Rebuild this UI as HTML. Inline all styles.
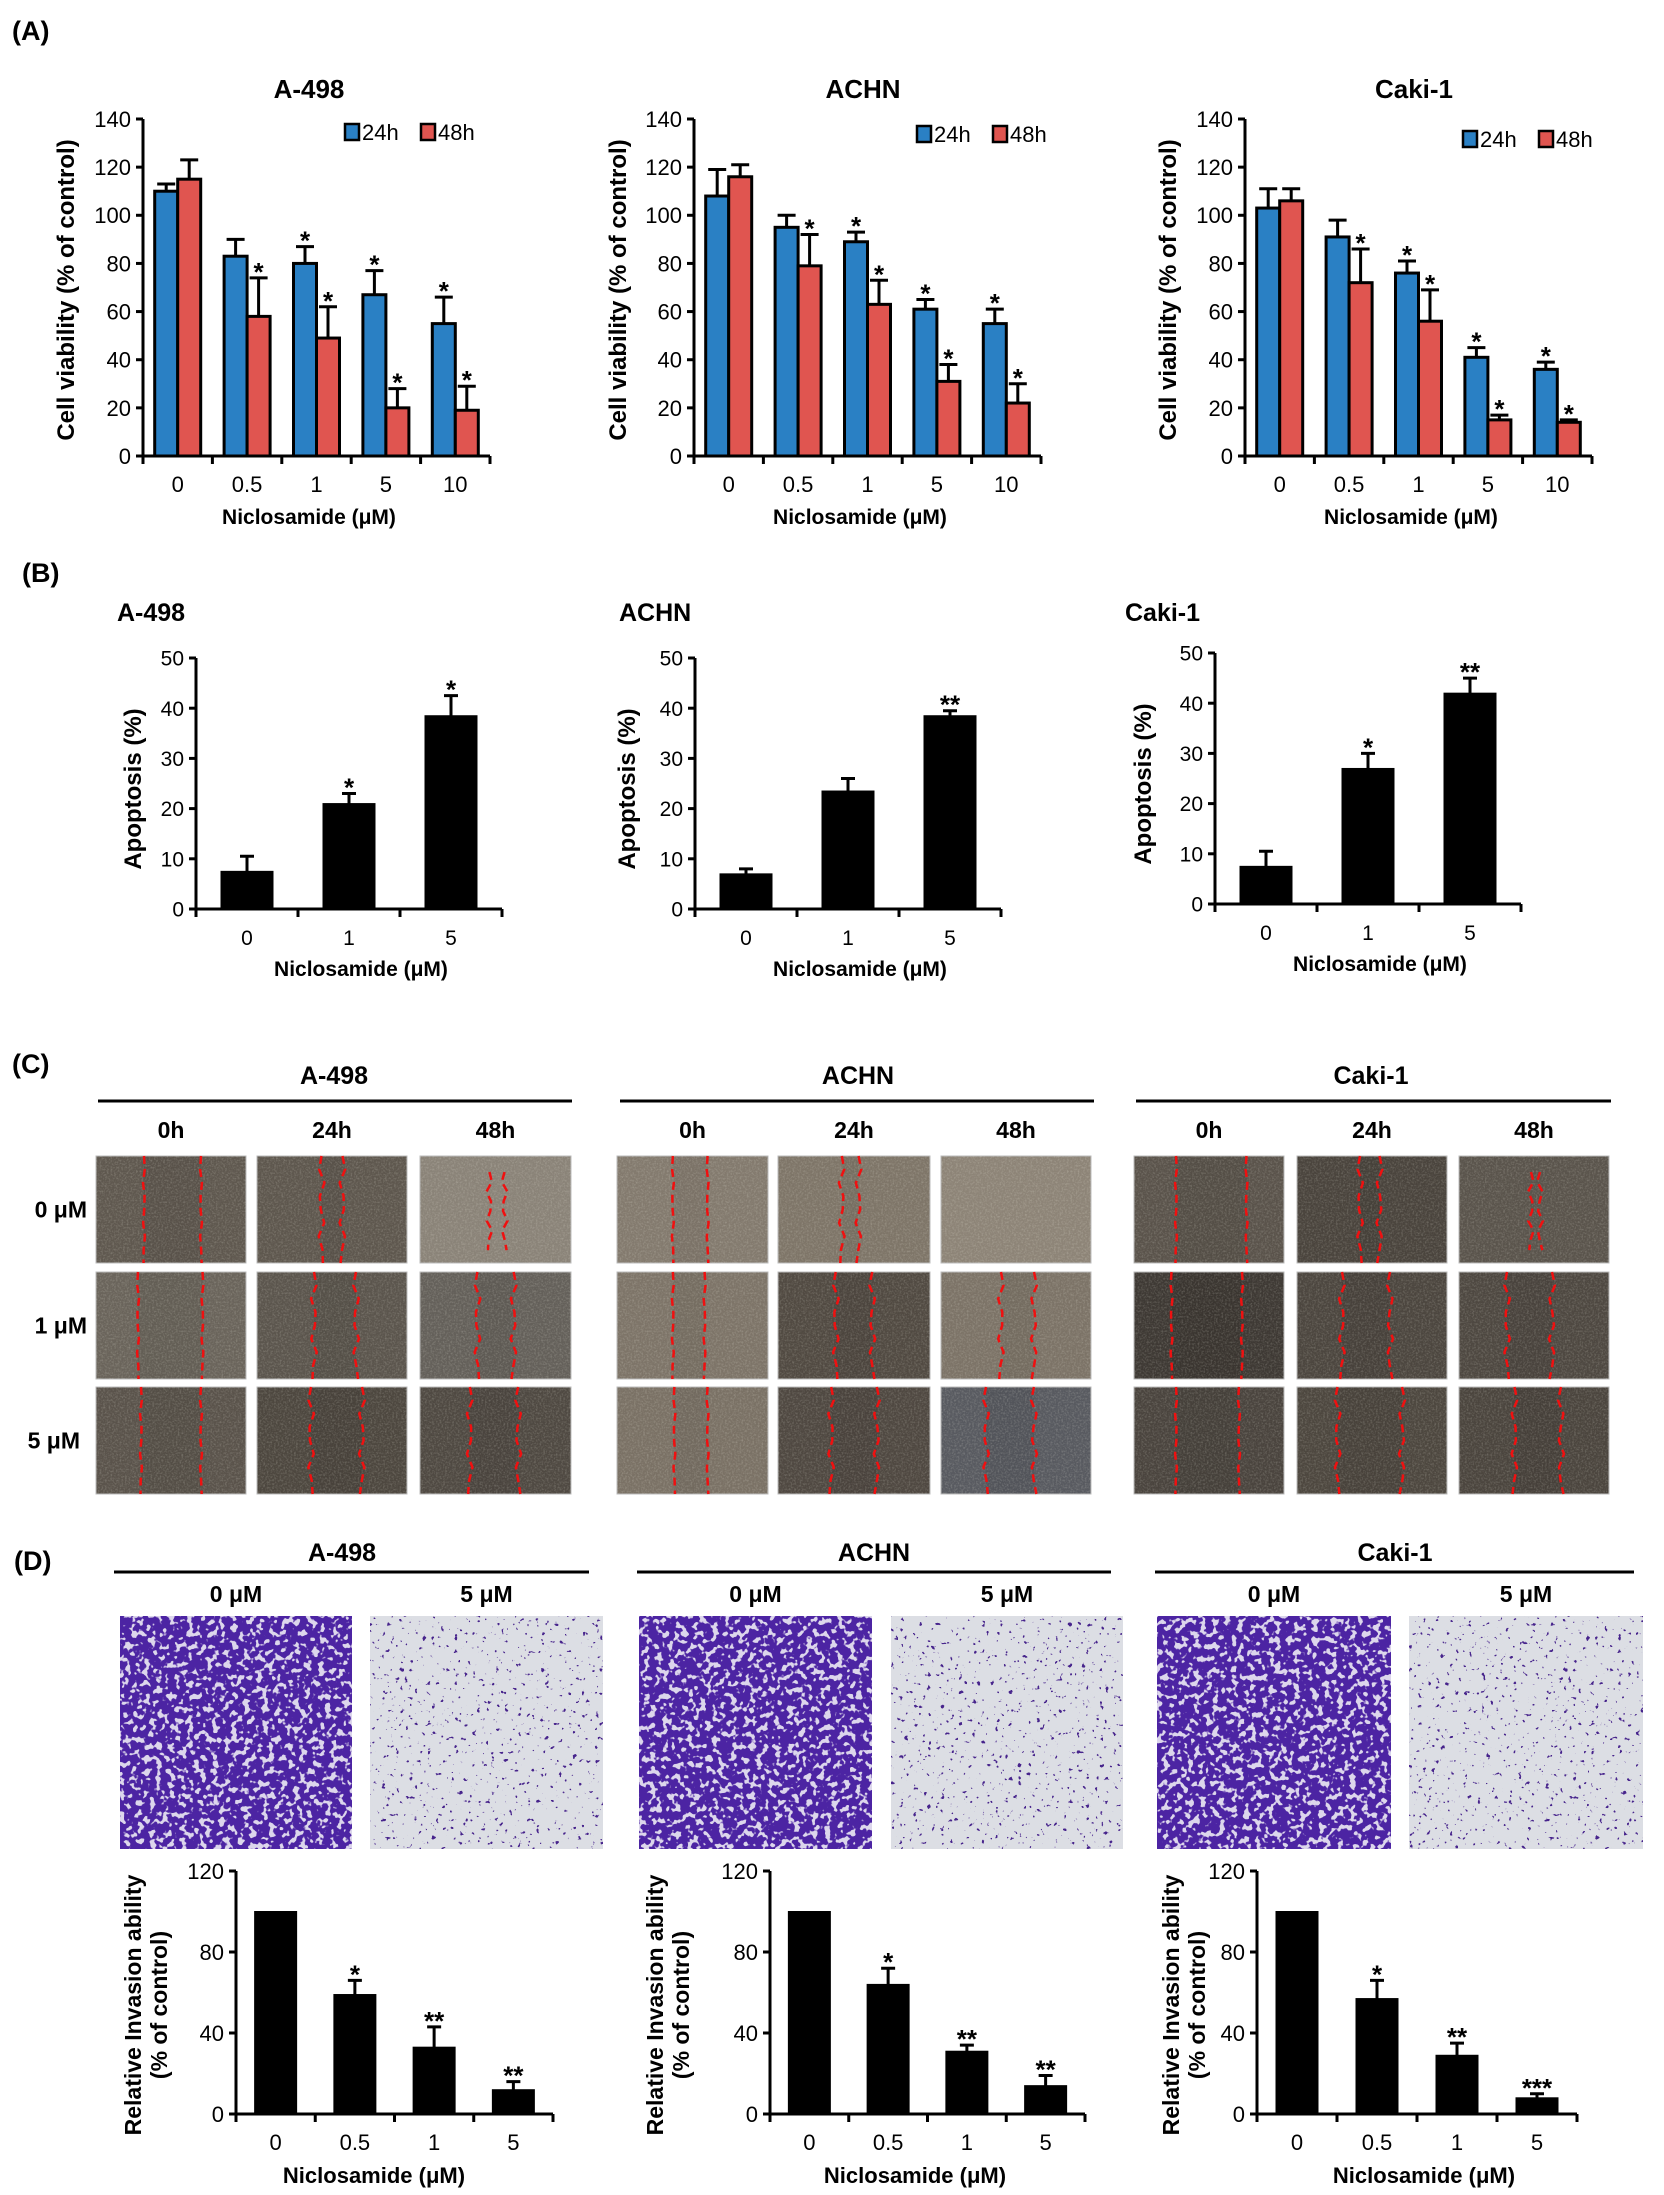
<!DOCTYPE html>
<html><head><meta charset="utf-8"><title>Niclosamide figure</title>
<style>
html,body{margin:0;padding:0;background:#fff;}
svg{display:block;font-family:"Liberation Sans",Arial,sans-serif;}
</style></head>
<body>
<svg id="fig" xmlns="http://www.w3.org/2000/svg" width="1664" height="2195" viewBox="0 0 1664 2195">
<defs>
<filter id="tex" x="0" y="0" width="1" height="1" color-interpolation-filters="sRGB">
<feTurbulence type="fractalNoise" baseFrequency="0.55" numOctaves="2" seed="4" result="n"/>
<feColorMatrix in="n" type="matrix" values="0 0 0 0 1  0 0 0 0 1  0 0 0 0 0.95  0 0 0 0.9 -0.38"/>
</filter>
<filter id="dense" x="0" y="0" width="1" height="1" color-interpolation-filters="sRGB">
<feTurbulence type="fractalNoise" baseFrequency="0.16" numOctaves="2" seed="7" result="n"/>
<feColorMatrix in="n" type="matrix" values="0 0 0 0 0.30  0 0 0 0 0.14  0 0 0 0 0.64  0 0 0 -14 8.6"/>
</filter>
<filter id="sparse" x="0" y="0" width="1" height="1" color-interpolation-filters="sRGB">
<feTurbulence type="fractalNoise" baseFrequency="0.22" numOctaves="2" seed="11" result="n"/>
<feColorMatrix in="n" type="matrix" values="0 0 0 0 0.28  0 0 0 0 0.14  0 0 0 0 0.55  0 0 0 18 -12.4"/>
</filter>
</defs>
<g id="labels" font-weight="bold" font-size="27" fill="#000">
<text x="12" y="40">(A)</text>
<text x="22" y="582">(B)</text>
<text x="12" y="1073">(C)</text>
<text x="14" y="1570">(D)</text>
</g>
</svg>
<script>
// ---------- Panel A data ----------
const catsA = ['0','0.5','1','5','10'];
const ticksA = [0,20,40,60,80,100,120,140];
const a498_24 = [110,83,80,67,55];
const a498_24e = [3,7,7,10,11];
const a498_48 = [115,58,49,20,19];
const a498_48e = [8,16,13,8,10];
const achn_24 = [108,95,89,61,55];
const achn_24e = [11,5,4,4,6];
const achn_48 = [116,79,63,31,22];
const achn_48e = [5,13,10,7,8];
const caki_24 = [103,91,76,41,36];
const caki_24e = [8,7,5,4,3];
const caki_48 = [106,72,56,15,14];
const caki_48e = [5,14,13,2,1];
const starsA24 = ['','','*','*','*'];
const starsA48 = ['','*','*','*','*'];
// ---------- Panel B data ----------
const catsB = ['0','1','5'];
const ticksB = [0,10,20,30,40,50];
const a498_apo = [7.5,21,38.5];
const a498_apoE = [3,2,4];
const a498_apoS = ['','*','*'];
const achn_apo = [7,23.5,38.5];
const achn_apoE = [1,2.5,1];
const achn_apoS = ['','','**'];
const caki_apo = [7.5,27,42];
const caki_apoE = [3,3,3];
const caki_apoS = ['','*','**'];
// ---------- Panel D data ----------
const catsD = ['0','0.5','1','5'];
const ticksD = [0,40,80,120];
const a498_inv = [100,59,33,12];
const a498_invE = [0,7,10,4];
const a498_invS = ['','*','**','**'];
const achn_inv = [100,64,31,14];
const achn_invE = [0,8,3,5];
const achn_invS = ['','*','**','**'];
const caki_inv = [100,57,29,8];
const caki_invE = [0,9,6,2];
const caki_invS = ['','*','**','***'];

const NS='http://www.w3.org/2000/svg';
const svg=document.getElementById('fig');
function mk(tag,attrs,parent){const e=document.createElementNS(NS,tag);for(const k in attrs)e.setAttribute(k,attrs[k]);(parent||svg).appendChild(e);return e;}
function txt(str,attrs,parent){const e=mk('text',attrs,parent);e.textContent=str;return e;}

function barChart(p){
  const g=mk('g',{});
  
  
  const sy=v=>p.y0-v/p.max*(p.y0-p.yTop);
  const n=p.cats.length, gw=(p.x1-p.x0)/n, ns=p.series.length;
  p.series.forEach((s,k)=>{
    s.vals.forEach((v,i)=>{
      const cx=p.x0+gw*(i+0.5);
      const bx=cx-ns*p.barW/2+k*p.barW;
      const r=mk('rect',{x:bx,y:sy(v),width:p.barW,height:p.y0-sy(v),fill:s.color,stroke:'#000','stroke-width':p.sw},g);
      
      
      const mx=bx+p.barW/2, top=sy(v+s.errs[i]);
      if(s.errs[i]>0){
        const el=mk('path',{d:`M${mx},${sy(v)} V${top} M${mx-p.cap},${top} H${mx+p.cap}`,stroke:'#000','stroke-width':p.ew,fill:'none'},g);
        
        
      }
      if(s.stars[i]){
        const st=txt(s.stars[i],{x:mx,y:top+p.starOff,'text-anchor':'middle','font-size':p.starSize,'font-weight':'bold'},g);
        
        
      }
    });
  });
  const ax=mk('path',{d:`M${p.x0},${p.yTop} V${p.y0} M${p.x0-6},${p.y0} H${p.x1}`,stroke:'#000','stroke-width':p.aw,fill:'none'},g);
  
  
  p.ticks.forEach(t=>{
    mk('line',{x1:p.x0-7,x2:p.x0,y1:sy(t),y2:sy(t),stroke:'#000','stroke-width':p.aw},g);
    const tl=txt(String(t),{x:p.x0-12,y:sy(t)+p.tickFs*0.36,'text-anchor':'end','font-size':p.tickFs},g);
    
    
  });
  for(let i=0;i<=n;i++){
    mk('line',{x1:p.x0+gw*i,x2:p.x0+gw*i,y1:p.y0,y2:p.y0+8,stroke:'#000','stroke-width':p.aw},g);
  }
  p.cats.forEach((c,i)=>{
    const cl=txt(c,{x:p.x0+gw*(i+0.5),y:p.catY,'text-anchor':'middle','font-size':p.tickFs},g);
    
    
  });
  const xt=txt('Niclosamide (μM)',{x:p.xtX,y:p.xtY,'text-anchor':'middle','font-size':p.xtFs,'font-weight':'bold'},g);
  
  
  p.yTitle.forEach((line,j)=>{
    const yt=txt(line,{x:0,y:0,'text-anchor':'middle','font-size':p.ytFs,'font-weight':'bold',transform:`translate(${p.ytX[j]},${p.ytY}) rotate(-90)`},g);
    
    
  });
  if(p.title){
    const tt=txt(p.title,{x:p.titleX,y:p.titleY,'text-anchor':p.titleAnchor,'font-size':p.titleFs,'font-weight':'bold'},g);
    
    
  }
  if(p.legend){
    const lx=p.legend[0], ly=p.legend[1];
    const lg=mk('g',{},g);
    
    
    mk('rect',{x:lx,y:ly-8,width:14,height:16,fill:'#2a80c4',stroke:'#000','stroke-width':2.5},lg);
    txt('24h',{x:lx+17,y:ly+8,'font-size':22},lg);
    mk('rect',{x:lx+76,y:ly-8,width:14,height:16,fill:'#e05550',stroke:'#000','stroke-width':2.5},lg);
    txt('48h',{x:lx+93,y:ly+8,'font-size':22},lg);
  }
}

const BLUE='#2a80c4', RED='#e05550';
function aChart(name,x0,title,titleX,legend,ytX,v24,e24,v48,e48){
  barChart({name,x0,x1:x0+347,y0:456,yTop:119,max:140,ticks:ticksA,cats:catsA,barW:23,sw:3,ew:3,cap:9,aw:3,
    series:[{key:'24h',vals:v24,errs:e24,stars:starsA24,color:BLUE},{key:'48h',vals:v48,errs:e48,stars:starsA48,color:RED}],
    starOff:3,starSize:26,tickFs:22,catY:492,xtX:x0+166,xtY:524,xtFs:21,yTitle:['Cell viability (% of control)'],ytX:[ytX],ytY:290,ytFs:24,
    title,titleX,titleY:98,titleAnchor:'middle',titleFs:26,legend});
}
aChart('chart-a-a498',143,'A-498',309,[345,132],74,a498_24,a498_24e,a498_48,a498_48e);
aChart('chart-a-achn',694,'ACHN',863,[917,134],626,achn_24,achn_24e,achn_48,achn_48e);
aChart('chart-a-caki1',1245,'Caki-1',1414,[1463,139],1176,caki_24,caki_24e,caki_48,caki_48e);

function bChart(name,x0,y0,title,titleX,ytX,vals,errs,stars,xtX){
  barChart({name,x0,x1:x0+306,y0,yTop:y0-251,max:50,ticks:ticksB,cats:catsB,barW:52,sw:1,ew:3,cap:7,aw:3,
    series:[{key:'apoptosis',vals,errs,stars,color:'#000'}],
    starOff:3,starSize:26,tickFs:21,catY:y0+36,xtX,xtY:y0+67,xtFs:21,yTitle:['Apoptosis (%)'],ytX:[ytX],ytY:y0-120,ytFs:24,
    title,titleX,titleY:621,titleAnchor:'start',titleFs:25});
}
bChart('chart-b-a498',196,909,'A-498',117,141,a498_apo,a498_apoE,a498_apoS,361);
bChart('chart-b-achn',695,909,'ACHN',619,635,achn_apo,achn_apoE,achn_apoS,860);
bChart('chart-b-caki1',1215,904,'Caki-1',1125,1151,caki_apo,caki_apoE,caki_apoS,1380);

function dChart(name,x0,x1,ytX,vals,errs,stars,xtX){
  barChart({name,x0,x1,y0:2114,yTop:1871,max:120,ticks:ticksD,cats:catsD,barW:42,sw:1,ew:3,cap:7,aw:3,
    series:[{key:'invasion',vals,errs,stars,color:'#000'}],
    starOff:3,starSize:26,tickFs:22,catY:2150,xtX,xtY:2183,xtFs:22,yTitle:['Relative Invasion ability','(% of control)'],ytX:[ytX,ytX+26],ytY:2005,ytFs:23});
}
dChart('chart-d-a498',236,553,141,a498_inv,a498_invE,a498_invS,374);
dChart('chart-d-achn',770,1085,663,achn_inv,achn_invE,achn_invS,915);
dChart('chart-d-caki1',1257,1577,1179,caki_inv,caki_invE,caki_invS,1424);

// ---------- Panel C: wound healing images ----------
const cGroups=[
 {name:'a498',title:'A-498',tx:334,line:[98,572],cols:[[96,246],[257,407],[420,571]],
  colors:[['#5f584f','#5e574e','#8a8378'],['#6a645b','#5b554d','#64605a'],['#5a534b','#4d473f','#4f4942']],
  gaps:[[[0.32,0.70],[0.43,0.57],[0.46,0.56,1]],[[0.28,0.71],[0.38,0.66],[0.38,0.62]],[[0.30,0.70],[0.36,0.70],[0.33,0.65]]]},
 {name:'achn',title:'ACHN',tx:858,line:[620,1094],cols:[[617,768],[778,930],[941,1091]],
  colors:[['#837a6e','#7e7568','#8d8477'],['#7d7468','#514a42','#7c7367'],['#7a7165','#4f4841','#585a60']],
  gaps:[[[0.37,0.60],[0.42,0.53],null],[[0.37,0.58],[0.38,0.62],[0.40,0.62]],[[0.38,0.60],[0.35,0.65],[0.30,0.62]]]},
 {name:'caki1',title:'Caki-1',tx:1371,line:[1136,1611],cols:[[1134,1284],[1297,1447],[1459,1609]],
  colors:[['#5a534b','#4a443d','#5a544c'],['#3e3934','#4c463f','#4e4841'],['#4a443e','#4d473f','#4b453e']],
  gaps:[[[0.28,0.75],[0.42,0.55],[0.48,0.54,1]],[[0.25,0.72],[0.30,0.62],[0.32,0.62]],[[0.28,0.70],[0.27,0.70],[0.37,0.68]]]}
];
const cRows=[[1156,1263],[1272,1379],[1387,1494]];
const cHours=['0h','24h','48h'];
const cDoses=['0 μM','1 μM','5 μM'];
cDoses.forEach((d,r)=>{
  const t=txt(d,{x:r===2?80:87,y:(cRows[r][0]+cRows[r][1])/2+8,'text-anchor':'end','font-size':23,'font-weight':'bold'});
  
  
});
function wiggle(x,y0,y1,amp,seed){
  let d=`M${x},${y0}`;const steps=8;
  for(let i=1;i<=steps;i++){const yy=y0+(y1-y0)*i/steps;const dx=amp*Math.sin(seed*3.1+i*2.3);d+=` L${x+dx},${yy}`;}
  return d;
}
cGroups.forEach((G,gi)=>{
  const g=mk('g',{});
  
  
  const t=txt(G.title,{x:G.tx,y:1084,'text-anchor':'middle','font-size':25,'font-weight':'bold'},g);
  
  
  mk('line',{x1:G.line[0],x2:G.line[1],y1:1101,y2:1101,stroke:'#000','stroke-width':3},g);
  G.cols.forEach((c,ci)=>{
    const h=txt(cHours[ci],{x:(c[0]+c[1])/2,y:1138,'text-anchor':'middle','font-size':23,'font-weight':'bold'},g);
    
    
    cRows.forEach((rw,ri)=>{
      const w=c[1]-c[0], hh=rw[1]-rw[0];
      const im=mk('g',{},g);
      
      
      mk('rect',{x:c[0],y:rw[0],width:w,height:hh,fill:G.colors[ri][ci],stroke:'#bbb','stroke-width':1},im);
      const gp=G.gaps[ri][ci];
      if(gp){
        const xl=c[0]+w*gp[0], xr=c[0]+w*gp[1];
        if(!gp[2]) mk('rect',{x:xl,y:rw[0],width:xr-xl,height:hh,fill:'#000',opacity:0.06},im);
      }
      mk('rect',{x:c[0],y:rw[0],width:w,height:hh,fill:'#fff',filter:'url(#tex)',opacity:0.5},im);
      if(gp){
        const xl=c[0]+w*gp[0], xr=c[0]+w*gp[1];
        const amp=ci===0?1:3;
        const ya=gp[2]?rw[0]+hh*0.15:rw[0], yb=gp[2]?rw[0]+hh*0.88:rw[1];
        mk('path',{d:wiggle(xl,ya,yb,amp,gi+ri+ci)+' '+wiggle(xr,ya,yb,amp,gi*2+ri+ci+5),stroke:'#f01010','stroke-width':2.5,'stroke-dasharray':'8,5',fill:'none'},im);
      }
    });
  });
});

// ---------- Panel D: invasion images ----------
const dGroups=[
 {name:'a498',title:'A-498',tx:342,line:[114,589],imgs:[[120,352],[370,603]]},
 {name:'achn',title:'ACHN',tx:874,line:[637,1111],imgs:[[639,872],[891,1123]]},
 {name:'caki1',title:'Caki-1',tx:1395,line:[1155,1634],imgs:[[1157,1391],[1409,1643]]}
];
const dDoses=['0 μM','5 μM'];
dGroups.forEach(G=>{
  const g=mk('g',{});
  
  
  const t=txt(G.title,{x:G.tx,y:1561,'text-anchor':'middle','font-size':25,'font-weight':'bold'},g);
  
  
  mk('line',{x1:G.line[0],x2:G.line[1],y1:1572,y2:1572,stroke:'#000','stroke-width':3},g);
  G.imgs.forEach((c,k)=>{
    const h=txt(dDoses[k],{x:(c[0]+c[1])/2,y:1602,'text-anchor':'middle','font-size':23,'font-weight':'bold'},g);
    
    
    const im=mk('g',{},g);
    
    
    const w=c[1]-c[0], hh=1849-1616;
    if(k===0){
      mk('rect',{x:c[0],y:1616,width:w,height:hh,fill:'#dcd6ec'},im);
      mk('rect',{x:c[0],y:1616,width:w,height:hh,fill:'#4a22a8',filter:'url(#dense)'},im);
    }else{
      mk('rect',{x:c[0],y:1616,width:w,height:hh,fill:'#dcdee4'},im);
      mk('rect',{x:c[0],y:1616,width:w,height:hh,fill:'#3a1e8a',filter:'url(#sparse)'},im);
    }
  });
});
</script>
</body></html>
